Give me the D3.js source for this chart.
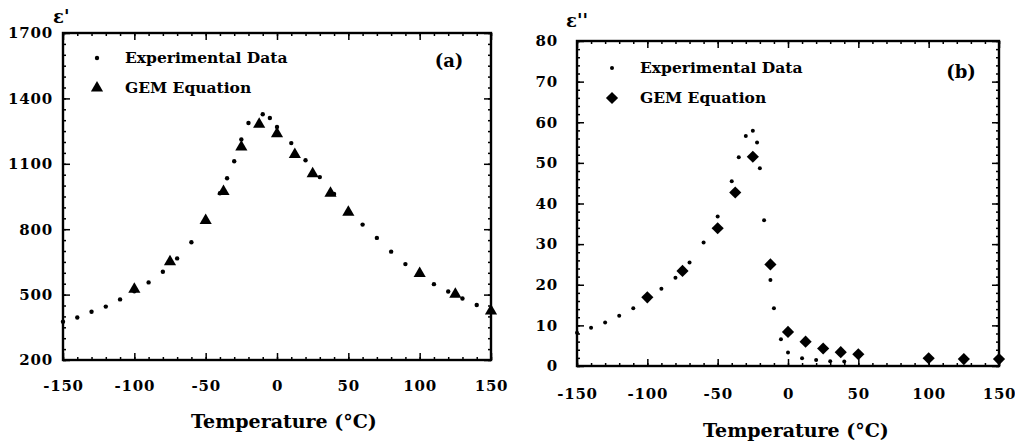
<!DOCTYPE html>
<html>
<head>
<meta charset="utf-8">
<script src="https://cdn.jsdelivr.net/npm/d3@7"></script>
<style>
  body { margin: 0; background: #fff; }
  svg text { font-family: "DejaVu Serif", serif; font-weight: bold; fill: #000; }
</style>
</head>
<body>
<div id="chart"></div>
<script>
// temperatures (°C) and values
const expTempA = [-150,-140,-130,-120,-110,-100,-90,-80,-70,-60,-50,-40,-35,-30,-25,-20,-10,-5,0,10,20,30,40,50,60,70,80,90,100,110,120,130,140,150];
const expValA  = [376,395,421,445,478,515,556,605,666,740,835,965,1034,1112,1212,1287,1327,1310,1269,1195,1116,1039,962,880,821,760,697,640,595,548,514,482,452,425];
const gemTemp  = [-100,-75,-50,-37.5,-25,-12.5,0,12.5,25,37.5,50,100,125,150];
const gemValA  = [525,651,840,973,1177,1281,1238,1143,1054,965,878,597,502,425];

const expTempB = [-150,-140,-130,-120,-110,-100,-90,-80,-70,-60,-50,-40,-35,-30,-25,-22,-20,-17,-12.5,-10,-5,0,10,20,30,40];
const expValB  = [8.2,9.4,10.7,12.4,14.2,16.5,19.0,21.7,25.5,30.4,36.8,45.5,51.4,56.6,57.9,55.0,48.7,35.9,21.2,14.2,6.6,3.3,1.9,1.5,1.2,1.1];
const gemValB  = [16.9,23.4,33.9,42.7,51.5,25.0,8.4,6.0,4.3,3.4,2.9,1.9,1.7,1.7];

const xMajor = [-150,-100,-50,0,50,100,150];
const xMinor = d3.range(-150, 151, 10);
const yMajorA = [200,500,800,1100,1400,1700];
const yMinorA = d3.range(200, 1701, 50);
const yMajorB = [0,10,20,30,40,50,60,70,80];
const yMinorB = d3.range(0, 81, 2);

const svg = d3.select('#chart').append('svg')
    .attr('width', 1015)
    .attr('height', 445);

function drawPanel(p) {
    const x = d3.scaleLinear().domain([-150, 150]).range([p.left, p.right]);
    const y = d3.scaleLinear().domain(p.yDomain).range([p.bottom, p.top]);
    const g = svg.append('g');
    const fmt = d => String(d);

    // ticks pointing inward on all four sides
    function ax(axis, tx, ty) {
        const a = g.append('g').attr('transform', `translate(${tx},${ty})`).call(axis);
        a.select('.domain').remove();
        a.selectAll('line').attr('stroke', '#000').attr('stroke-width', 1.5);
        a.selectAll('text').attr('font-size', 15).attr('font-family', '"DejaVu Serif", serif')
            .attr('font-weight', 'bold').attr('fill', '#000').attr('letter-spacing', 0.8);
        return a;
    }
    ax(d3.axisBottom(x).tickValues(xMinor).tickSize(-3).tickFormat(''), 0, p.bottom);
    ax(d3.axisBottom(x).tickValues(xMajor).tickSize(-7).tickPadding(p.xPad).tickFormat(fmt), 0, p.bottom);
    ax(d3.axisTop(x).tickValues(xMinor).tickSize(-3).tickFormat(''), 0, p.top);
    ax(d3.axisTop(x).tickValues(xMajor).tickSize(-7).tickFormat(''), 0, p.top);
    ax(d3.axisLeft(y).tickValues(p.yMinor).tickSize(-3).tickFormat(''), p.left, 0);
    ax(d3.axisLeft(y).tickValues(p.yMajor).tickSize(-7).tickPadding(p.yPad).tickFormat(fmt), p.left, 0);
    ax(d3.axisRight(y).tickValues(p.yMinor).tickSize(-3).tickFormat(''), p.right, 0);
    ax(d3.axisRight(y).tickValues(p.yMajor).tickSize(-7).tickFormat(''), p.right, 0);

    // frame
    g.append('rect')
        .attr('x', p.left).attr('y', p.top)
        .attr('width', p.right - p.left).attr('height', p.bottom - p.top)
        .attr('fill', 'none').attr('stroke', '#000').attr('stroke-width', 2.4);

    // experimental dots
    g.append('g').selectAll('circle')
        .data(p.expT.map((t, i) => [t, p.expV[i]]))
        .enter().append('circle')
        .attr('cx', d => x(d[0])).attr('cy', d => y(d[1]))
        .attr('r', p.dotR).attr('fill', '#000');

    // GEM equation markers
    g.append('g').selectAll('path')
        .data(gemTemp.map((t, i) => [t, p.gemV[i]]))
        .enter().append('path')
        .attr('d', p.symbol)
        .attr('transform', d => `translate(${x(d[0])},${y(d[1])}) rotate(${p.symbolRot})`)
        .attr('fill', '#000');

    // legend
    g.append('circle').attr('cx', p.legX).attr('cy', p.legY).attr('r', p.dotR).attr('fill', '#000');
    g.append('text').attr('x', p.legX + 28).attr('y', p.legY + 5).attr('font-size', 15.5).text('Experimental  Data');
    g.append('path').attr('d', p.symbol)
        .attr('transform', `translate(${p.legX},${p.legY + 30}) rotate(${p.symbolRot})`).attr('fill', '#000');
    g.append('text').attr('x', p.legX + 28).attr('y', p.legY + 35).attr('font-size', 15.5).text('GEM  Equation');

    // panel letter
    g.append('text').attr('x', p.tagX).attr('y', p.tagY).attr('text-anchor', 'middle')
        .attr('font-size', 18).text(p.tag);

    // y label (epsilon)
    g.append('text').attr('x', p.epsX).attr('y', p.epsY).attr('font-size', 18)
        .attr('font-weight', 'normal').text(p.eps);

    // x title
    g.append('text').attr('x', p.titleX).attr('y', p.titleY).attr('text-anchor', 'middle')
        .attr('font-size', 19).text('Temperature (°C)');
}

drawPanel({
    left: 63, right: 491, top: 33, bottom: 360,
    yDomain: [200, 1700], yMajor: yMajorA, yMinor: yMinorA,
    xPad: 20, yPad: 10,
    expT: expTempA, expV: expValA, gemV: gemValA, dotR: 2.2,
    symbol: d3.symbol().type(d3.symbolTriangle).size(64)(), symbolRot: 0,
    legX: 97, legY: 58,
    tag: '(a)', tagX: 449, tagY: 67,
    eps: "ε'", epsX: 53, epsY: 23,
    titleX: 284, titleY: 428
});

drawPanel({
    left: 577, right: 999, top: 41, bottom: 366,
    yDomain: [0, 80], yMajor: yMajorB, yMinor: yMinorB,
    xPad: 22, yPad: 19,
    expT: expTempB, expV: expValB, gemV: gemValB, dotR: 2,
    symbol: d3.symbol().type(d3.symbolSquare).size(74)(), symbolRot: 45,
    legX: 612, legY: 68,
    tag: '(b)', tagX: 961, tagY: 78,
    eps: "ε''", epsX: 566, epsY: 27,
    titleX: 796, titleY: 437
});
</script>
</body>
</html>
